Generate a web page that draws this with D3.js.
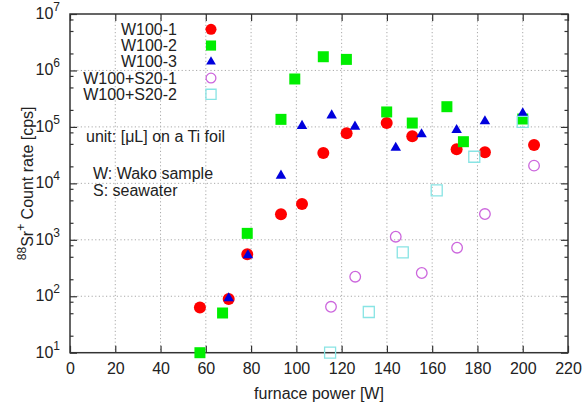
<!DOCTYPE html>
<html><head><meta charset="utf-8">
<script src="https://cdn.jsdelivr.net/npm/d3@7/dist/d3.min.js"></script>
<style>
body{margin:0;background:#fff;}
svg{font-family:"Liberation Sans",Arial,sans-serif;}
</style></head>
<body><svg id="c" width="588" height="408"></svg>
<script>
// ---- data ----
const seriesNames = ["W100-1","W100-2","W100-3","W100+S20-1","W100+S20-2"];
const w1x = [57.4,70.1,78.3,93.2,102.5,111.9,122.2,139.9,151.2,170.8,183.3,205];
const w1y = [63,89,553,2830,4300,34500,77000,117000,68000,40000,35500,47900];
const w2x = [57.4,67.4,78.3,93.2,99.3,111.9,122.1,139.9,151.2,166.5,173.8,200];
const w2y = [10,50.5,1300,136000,706000,1750000,1570000,184000,117000,228000,54700,138000];
const w3x = [70.1,78.6,93.2,102.5,115.6,125.9,143.9,155.3,170.8,183.3,200];
const w3y = [92,531,13700,104000,160000,101000,42800,74000,88000,126000,174000];
const s1x = [115.3,126,143.9,155.4,171,183.3,205];
const s1y = [65,222,1135,258,725,2860,20600];
const s2x = [114.9,132,147,162,178.6,200];
const s2y = [10,52.6,600,7530,29600,123000];
const xTicks = [0,20,40,60,80,100,120,140,160,180,200,220];
const yTicks = [1e1,1e2,1e3,1e4,1e5,1e6,1e7];
const yMinorMult = [2,5,8];
const notes = ["unit: [\u03bcL] on a Ti foil","W: Wako sample","S: seawater"];

const svg = d3.select("#c");
const L=70, R=568, T=14, B=352.7;
const x = d3.scaleLinear().domain([0,220]).range([L,R]);
const y = d3.scaleLog().domain([10,1e7]).range([B,T]);

// grid
const g = svg.append("g");
g.selectAll(".gx").data(xTicks.slice(1,-1)).join("line")
  .attr("x1",d=>x(d)).attr("x2",d=>x(d)).attr("y1",T).attr("y2",B)
  .attr("stroke","#aaa").attr("stroke-width",1).attr("stroke-dasharray","1.2,2.4");
g.selectAll(".gy").data(yTicks.slice(1,-1)).join("line")
  .attr("x1",L).attr("x2",R).attr("y1",d=>y(d)).attr("y2",d=>y(d))
  .attr("stroke","#aaa").attr("stroke-width",1).attr("stroke-dasharray","1.2,2.4");

const minor = [];
for (let e=1;e<7;e++) for (const m of yMinorMult) minor.push(m*Math.pow(10,e));

function styleAxis(sel){
  sel.select(".domain").remove();
  sel.selectAll("line").attr("stroke","#333").attr("stroke-width",1.2);
}
// bottom axis
const ax = svg.append("g").attr("transform",`translate(0,${B})`)
  .call(d3.axisBottom(x).tickValues(xTicks).tickSize(-7).tickPadding(0).tickFormat(d3.format("d")));
styleAxis(ax);
ax.selectAll("text").attr("y",21).attr("dy",0).attr("fill","#222").attr("font-size",16);
// top axis
const axT = svg.append("g").attr("transform",`translate(0,${T})`)
  .call(d3.axisTop(x).tickValues(xTicks).tickSize(-7).tickFormat(""));
styleAxis(axT);
// left axis
const ay = svg.append("g").attr("transform",`translate(${L},0)`)
  .call(d3.axisLeft(y).tickValues(yTicks).tickSize(-7).tickPadding(10).tickFormat(d=>""));
styleAxis(ay);
ay.selectAll(".tick text").each(function(d){
  const t = d3.select(this).attr("x",-10).attr("dy",0).attr("y",4.5)
     .attr("fill","#222").attr("font-size",16).attr("text-anchor","end");
  t.append("tspan").text("10");
  t.append("tspan").attr("font-size",12).attr("dy",-8).text(Math.round(Math.log10(d)));
});
const ayM = svg.append("g").attr("transform",`translate(${L},0)`)
  .call(d3.axisLeft(y).tickValues(minor).tickSize(-3.5).tickFormat(""));
styleAxis(ayM);
// right axis
const ayR = svg.append("g").attr("transform",`translate(${R},0)`)
  .call(d3.axisRight(y).tickValues(yTicks).tickSize(-7).tickFormat(""));
styleAxis(ayR);
const ayRM = svg.append("g").attr("transform",`translate(${R},0)`)
  .call(d3.axisRight(y).tickValues(minor).tickSize(-3.5).tickFormat(""));
styleAxis(ayRM);

// frame
svg.append("rect").attr("x",L).attr("y",T).attr("width",R-L).attr("height",B-T)
  .attr("fill","none").attr("stroke","#333").attr("stroke-width",1.5);

// markers
const styles = [
  {sym:d3.symbolCircle, size:Math.PI*6*6, fill:"#ff0000", stroke:"none"},
  {sym:d3.symbolSquare, size:11*11, fill:"#00ee00", stroke:"none"},
  {sym:d3.symbolTriangle, size:48, fill:"#0000dd", stroke:"none"},
  {sym:d3.symbolCircle, size:Math.PI*5.3*5.3, fill:"none", stroke:"#cc66dd"},
  {sym:d3.symbolSquare, size:11*11, fill:"none", stroke:"#88e4e4"}
];
const series = [[w1x,w1y],[w2x,w2y],[w3x,w3y],[s1x,s1y],[s2x,s2y]];
series.forEach(([xs,ys],i)=>{
  const st = styles[i];
  const pts = xs.map((v,j)=>[v,ys[j]]);
  svg.append("g").selectAll("path").data(pts).join("path")
    .attr("d",d3.symbol().type(st.sym).size(st.size))
    .attr("transform",d=>`translate(${x(d[0])},${y(d[1])})`)
    .attr("fill",st.fill).attr("stroke",st.stroke).attr("stroke-width",1.3);
});

// legend
const lg = svg.append("g");
seriesNames.forEach((n,i)=>{
  const cy = 29.3 + i*16.25;
  lg.append("text").attr("x",177).attr("y",cy).attr("dy","0.35em").attr("text-anchor","end")
    .attr("font-size",16).attr("fill","#222").text(n);
  const st = styles[i];
  lg.append("path").attr("d",d3.symbol().type(st.sym).size(st.size*0.85))
    .attr("transform",`translate(211,${cy})`).attr("fill",st.fill).attr("stroke",st.stroke).attr("stroke-width",1.3);
});

// notes
svg.append("text").attr("x",86).attr("y",142).attr("font-size",16).attr("fill","#222").text(notes[0]);
svg.append("text").attr("x",93).attr("y",178.5).attr("font-size",16).attr("fill","#222").text(notes[1]);
svg.append("text").attr("x",93).attr("y",195.5).attr("font-size",16).attr("fill","#222").text(notes[2]);

// axis labels
svg.append("text").attr("x",(L+R)/2).attr("y",398.5).attr("text-anchor","middle")
  .attr("font-size",16).attr("fill","#222").text("furnace power [W]");
const yl = svg.append("text").attr("transform",`translate(33,${(T+B)/2}) rotate(-90)`)
  .attr("text-anchor","middle").attr("font-size",16).attr("fill","#222");
yl.append("tspan").attr("font-size",12).attr("dy",-7).text("88");
yl.append("tspan").attr("dy",7).text("Sr");
yl.append("tspan").attr("font-size",12).attr("dy",-8).text("+");
yl.append("tspan").attr("dy",8).text(" Count rate [cps]");
</script></body></html>
